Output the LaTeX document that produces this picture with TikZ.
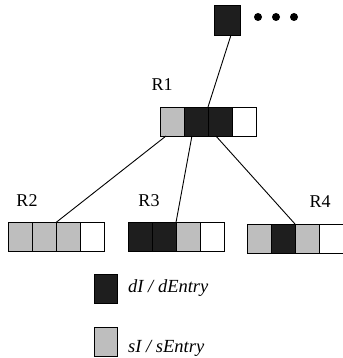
\documentclass[tikz,border=0pt]{standalone}
\usepackage{fontspec}
\setmainfont{Liberation Serif}
\usetikzlibrary{calc}

\definecolor{dcell}{HTML}{1E1E1E}
\definecolor{scell}{HTML}{BEBEBE}

\tikzset{
  cell/.style={draw=black, line width=0.9pt, minimum width=24pt, minimum height=29pt,
               inner sep=0pt, outer sep=0pt},
  dfill/.style={cell, fill=dcell},
  sfill/.style={cell, fill=scell},
  efill/.style={cell, fill=white},
  rlabel/.style={font=\fontsize{18}{20}\selectfont, inner sep=0pt},
  legtext/.style={font=\fontsize{18.5}{20}\selectfont\itshape, inner sep=0pt, anchor=base west},
  link/.style={line width=0.9pt, black},
  dot/.style={fill=black, circle, inner sep=0pt, minimum size=8pt}
}

\begin{document}
\begin{tikzpicture}[x=1pt, y=-1pt]
  \useasboundingbox (0,0) rectangle (342,358);

  % root entry and the rest of the level
  \node[dfill, minimum width=26pt, minimum height=30pt] (top) at (227,20) {};
  \node[dot] (d1) at (258,17) {};
  \node[dot] (d2) at (276,17) {};
  \node[dot] (d3) at (294,17) {};

  % node R1
  \node[rlabel] (l1) at (162,85) {R1};
  \node[sfill] (r1c1) at (172,121.5) {};
  \node[dfill] (r1c2) at (196,121.5) {};
  \node[dfill] (r1c3) at (220,121.5) {};
  \node[efill] (r1c4) at (244,121.5) {};

  % node R2
  \node[rlabel] (l2) at (27,201) {R2};
  \node[sfill] (r2c1) at (20,237) {};
  \node[sfill] (r2c2) at (44,237) {};
  \node[sfill] (r2c3) at (68,237) {};
  \node[efill] (r2c4) at (92,237) {};

  % node R3
  \node[rlabel] (l3) at (149,201) {R3};
  \node[dfill] (r3c1) at (140,237) {};
  \node[dfill] (r3c2) at (164,237) {};
  \node[sfill] (r3c3) at (188,237) {};
  \node[efill] (r3c4) at (212,237) {};

  % node R4
  \node[rlabel] (l4) at (320,202) {R4};
  \node[sfill] (r4c1) at (259,238.5) {};
  \node[dfill] (r4c2) at (283,238.5) {};
  \node[sfill] (r4c3) at (307,238.5) {};
  \node[efill] (r4c4) at (331,238.5) {};

  % tree edges
  \draw[link] ([xshift=4pt]top.south) -- (r1c2.north east);
  \draw[link] ($(r1c1.south west)!0.25!(r1c1.south east)$) -- (r2c2.north east);
  \draw[link] ($(r1c2.south west)!0.33!(r1c2.south east)$) -- (r3c2.north east);
  \draw[link] ($(r1c3.south west)!0.33!(r1c3.south east)$) -- (r4c2.north east);

  % legend
  \node[dfill, minimum width=23pt] (kd) at (105.5,288.5) {};
  \node[legtext] (td) at (128,292.5) {dI / dEntry};
  \node[sfill, minimum width=23pt] (ks) at (105.5,341.5) {};
  \node[legtext] (ts) at (128,352) {sI / sEntry};
\end{tikzpicture}
\end{document}
